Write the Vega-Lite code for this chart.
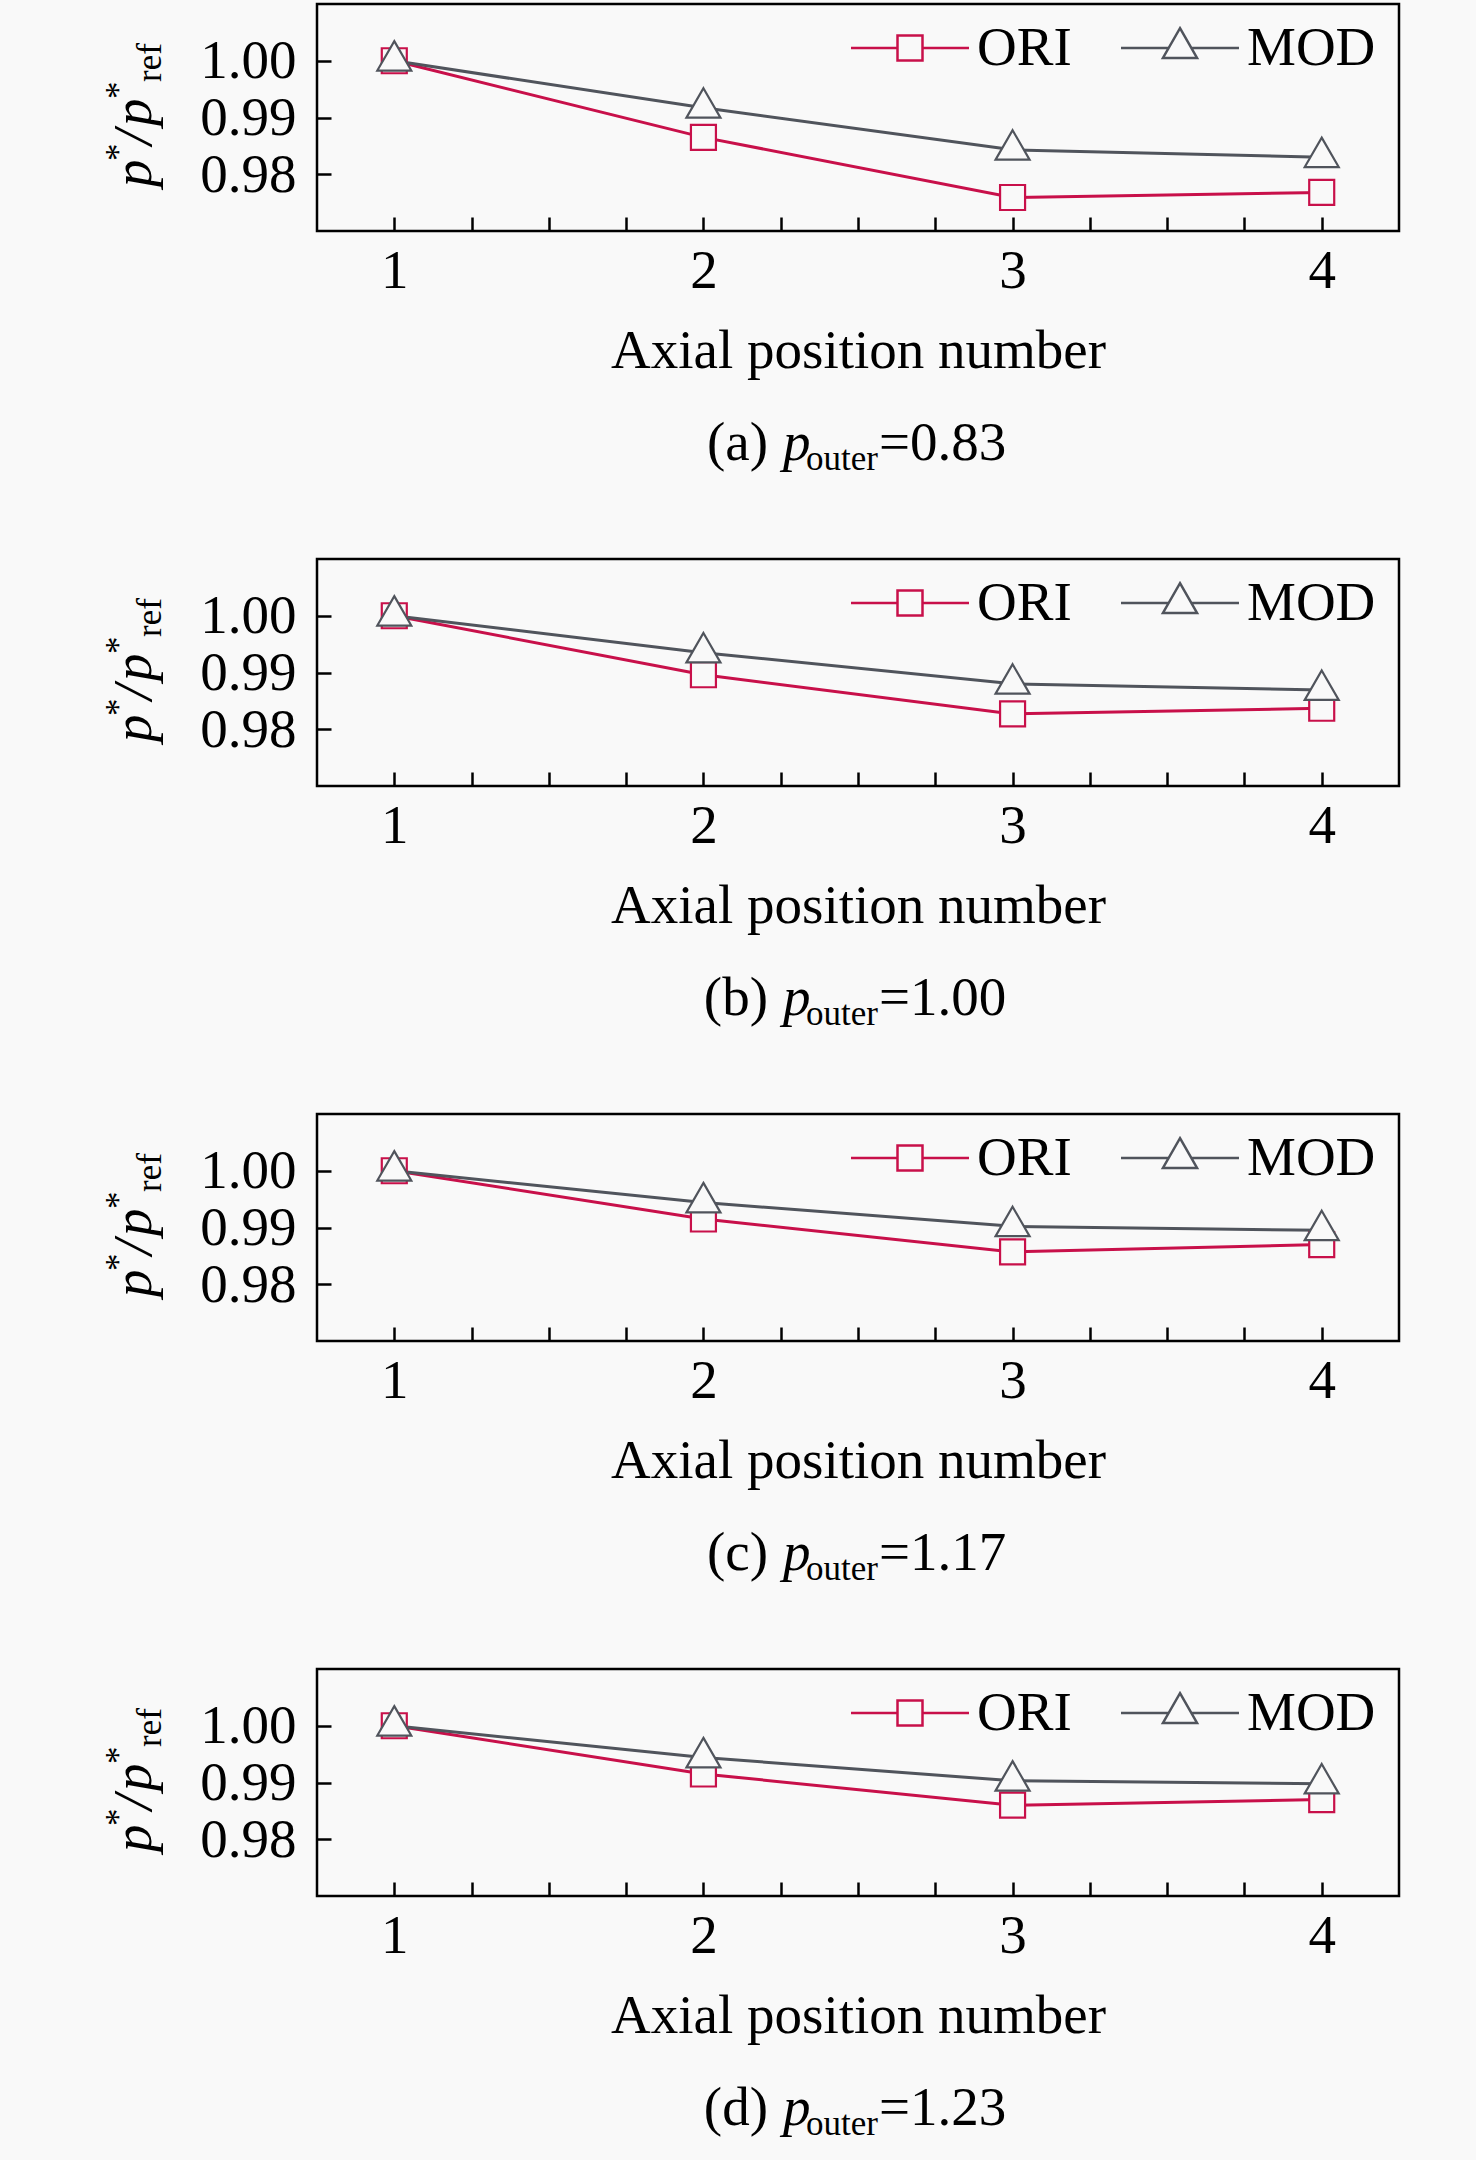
{
  "$schema": "https://vega.github.io/schema/vega-lite/v6.json",
  "background": "#f9f9f9",
  "padding": {"left": 100, "top": 2, "right": 78, "bottom": 36},
  "datasets": {
    "points": [
      {"panel": "a", "series": "ORI", "pos": 1, "ratio": 1.0},
      {"panel": "a", "series": "ORI", "pos": 2, "ratio": 0.9865},
      {"panel": "a", "series": "ORI", "pos": 3, "ratio": 0.9759},
      {"panel": "a", "series": "ORI", "pos": 4, "ratio": 0.9768},
      {"panel": "a", "series": "MOD", "pos": 1, "ratio": 1.0},
      {"panel": "a", "series": "MOD", "pos": 2, "ratio": 0.9917},
      {"panel": "a", "series": "MOD", "pos": 3, "ratio": 0.9843},
      {"panel": "a", "series": "MOD", "pos": 4, "ratio": 0.983},
      {"panel": "b", "series": "ORI", "pos": 1, "ratio": 1.0},
      {"panel": "b", "series": "ORI", "pos": 2, "ratio": 0.9896},
      {"panel": "b", "series": "ORI", "pos": 3, "ratio": 0.9827},
      {"panel": "b", "series": "ORI", "pos": 4, "ratio": 0.9837},
      {"panel": "b", "series": "MOD", "pos": 1, "ratio": 1.0},
      {"panel": "b", "series": "MOD", "pos": 2, "ratio": 0.9935},
      {"panel": "b", "series": "MOD", "pos": 3, "ratio": 0.988},
      {"panel": "b", "series": "MOD", "pos": 4, "ratio": 0.9869},
      {"panel": "c", "series": "ORI", "pos": 1, "ratio": 1.0},
      {"panel": "c", "series": "ORI", "pos": 2, "ratio": 0.9915},
      {"panel": "c", "series": "ORI", "pos": 3, "ratio": 0.9857},
      {"panel": "c", "series": "ORI", "pos": 4, "ratio": 0.987},
      {"panel": "c", "series": "MOD", "pos": 1, "ratio": 1.0},
      {"panel": "c", "series": "MOD", "pos": 2, "ratio": 0.9944},
      {"panel": "c", "series": "MOD", "pos": 3, "ratio": 0.9902},
      {"panel": "c", "series": "MOD", "pos": 4, "ratio": 0.9895},
      {"panel": "d", "series": "ORI", "pos": 1, "ratio": 1.0},
      {"panel": "d", "series": "ORI", "pos": 2, "ratio": 0.9915},
      {"panel": "d", "series": "ORI", "pos": 3, "ratio": 0.986},
      {"panel": "d", "series": "ORI", "pos": 4, "ratio": 0.987},
      {"panel": "d", "series": "MOD", "pos": 1, "ratio": 1.0},
      {"panel": "d", "series": "MOD", "pos": 2, "ratio": 0.9944},
      {"panel": "d", "series": "MOD", "pos": 3, "ratio": 0.9903},
      {"panel": "d", "series": "MOD", "pos": 4, "ratio": 0.9898}
    ],
    "captions": [
      {"panel": "a", "tag": "(a)", "val": "=0.83"},
      {"panel": "b", "tag": "(b)", "val": "=1.00"},
      {"panel": "c", "tag": "(c)", "val": "=1.17"},
      {"panel": "d", "tag": "(d)", "val": "=1.23"}
    ]
  },
  "spacing": 328,
  "bounds": "flush",
  "resolve": {"scale": {"color": "independent"}, "legend": {"color": "independent"}},
  "vconcat": [
    {
      "width": 1082, "height": 227,
      "data": {"name": "points"},
      "transform": [{"filter": "datum.panel === 'a'"}],
      "layer": [
        {
          "mark": {"type": "line", "strokeWidth": 3},
          "encoding": {
            "x": {"field": "pos", "type": "quantitative", "scale": {"domain": [0.75, 4.25], "nice": false, "zero": false},
              "axis": {"title": "Axial position number", "values": [1, 1.25, 1.5, 1.75, 2, 2.25, 2.5, 2.75, 3, 3.25, 3.5, 3.75, 4], "labelExpr": "datum.value % 1 === 0 ? format(datum.value, 'd') : ''", "tickSize": -14, "labelPadding": 27, "titlePadding": 26, "encode": {"ticks": {"update": {"y2": {"signal": "datum.value % 1 === 0 ? -14 : -7"}}}}}},
            "y": {"field": "ratio", "type": "quantitative", "scale": {"domain": [0.97, 1.01], "nice": false, "zero": false},
              "axis": {"title": null, "values": [0.98, 0.99, 1.0], "format": ".2f", "tickSize": -14, "labelPadding": 35}},
            "color": {"field": "series", "type": "nominal", "scale": {"domain": ["ORI", "MOD"], "range": ["#c8104a", "#50545c"]},
              "legend": {"title": null, "orient": "none", "legendX": 564, "legendY": 15, "direction": "horizontal", "symbolSize": 3025, "symbolStrokeWidth": 2.5, "labelOffset": 38, "columnPadding": 44, "padding": 0,
                "encode": {"symbols": {"update": {"shape": {"signal": "datum.value === 'ORI' ? 'M-2.145,0H-0.4545M0.4545,0H2.145M-0.4545,-0.4545H0.4545V0.4545H-0.4545Z' : 'M-2.145,0H-0.41M0.41,0H2.145M0,-0.72L0.62,0.36L-0.62,0.36Z'"}, "fill": {"value": "transparent"}, "strokeWidth": {"value": 2.5}}}}}}
          }
        },
        {
          "transform": [{"filter": "datum.series === 'ORI'"}],
          "mark": {"type": "point", "shape": "square", "size": 625, "filled": true, "fill": "#f9f9f9", "stroke": "#c8104a", "strokeWidth": 2.2, "opacity": 1},
          "encoding": {"x": {"field": "pos", "type": "quantitative"}, "y": {"field": "ratio", "type": "quantitative"}}
        },
        {
          "transform": [{"filter": "datum.series === 'MOD'"}],
          "mark": {"type": "point", "shape": "M0,-1.155L1,0.577L-1,0.577Z", "size": 1156, "filled": true, "fill": "#f9f9f9", "stroke": "#50545c", "strokeWidth": 2.2, "opacity": 1},
          "encoding": {"x": {"field": "pos", "type": "quantitative"}, "y": {"field": "ratio", "type": "quantitative"}}
        },
        {
          "data": {"name": "captions"},
          "transform": [{"filter": "datum.panel === 'a'"}],
          "layer": [
            {"mark": {"type": "text", "text": "p", "fontStyle": "italic", "angle": 270, "align": "left", "x": -166, "y": 183}},
            {"mark": {"type": "text", "text": "*", "fontSize": 35, "angle": 270, "align": "left", "x": -187, "y": 157}},
            {"mark": {"type": "text", "text": "/", "fontStyle": "italic", "angle": 270, "align": "left", "x": -166, "y": 141}},
            {"mark": {"type": "text", "text": "p", "fontStyle": "italic", "angle": 270, "align": "left", "x": -166, "y": 122}},
            {"mark": {"type": "text", "text": "*", "fontSize": 35, "angle": 270, "align": "left", "x": -187, "y": 95}},
            {"mark": {"type": "text", "text": "ref", "fontSize": 35, "angle": 270, "align": "left", "x": -156, "y": 78}},
            {"mark": {"type": "text", "align": "right", "x": 451, "y": 456}, "encoding": {"text": {"field": "tag"}}},
            {"mark": {"type": "text", "text": "p", "fontStyle": "italic", "align": "left", "x": 466, "y": 456}},
            {"mark": {"type": "text", "text": "outer", "fontSize": 35, "align": "left", "x": 489, "y": 466}},
            {"mark": {"type": "text", "align": "left", "x": 562, "y": 456}, "encoding": {"text": {"field": "val"}}}
          ]
        }
      ]
    },
    {
      "width": 1082, "height": 227,
      "data": {"name": "points"},
      "transform": [{"filter": "datum.panel === 'b'"}],
      "layer": [
        {
          "mark": {"type": "line", "strokeWidth": 3},
          "encoding": {
            "x": {"field": "pos", "type": "quantitative", "scale": {"domain": [0.75, 4.25], "nice": false, "zero": false},
              "axis": {"title": "Axial position number", "values": [1, 1.25, 1.5, 1.75, 2, 2.25, 2.5, 2.75, 3, 3.25, 3.5, 3.75, 4], "labelExpr": "datum.value % 1 === 0 ? format(datum.value, 'd') : ''", "tickSize": -14, "labelPadding": 27, "titlePadding": 26, "encode": {"ticks": {"update": {"y2": {"signal": "datum.value % 1 === 0 ? -14 : -7"}}}}}},
            "y": {"field": "ratio", "type": "quantitative", "scale": {"domain": [0.97, 1.01], "nice": false, "zero": false},
              "axis": {"title": null, "values": [0.98, 0.99, 1.0], "format": ".2f", "tickSize": -14, "labelPadding": 35}},
            "color": {"field": "series", "type": "nominal", "scale": {"domain": ["ORI", "MOD"], "range": ["#c8104a", "#50545c"]},
              "legend": {"title": null, "orient": "none", "legendX": 564, "legendY": 15, "direction": "horizontal", "symbolSize": 3025, "symbolStrokeWidth": 2.5, "labelOffset": 38, "columnPadding": 44, "padding": 0,
                "encode": {"symbols": {"update": {"shape": {"signal": "datum.value === 'ORI' ? 'M-2.145,0H-0.4545M0.4545,0H2.145M-0.4545,-0.4545H0.4545V0.4545H-0.4545Z' : 'M-2.145,0H-0.41M0.41,0H2.145M0,-0.72L0.62,0.36L-0.62,0.36Z'"}, "fill": {"value": "transparent"}, "strokeWidth": {"value": 2.5}}}}}}
          }
        },
        {
          "transform": [{"filter": "datum.series === 'ORI'"}],
          "mark": {"type": "point", "shape": "square", "size": 625, "filled": true, "fill": "#f9f9f9", "stroke": "#c8104a", "strokeWidth": 2.2, "opacity": 1},
          "encoding": {"x": {"field": "pos", "type": "quantitative"}, "y": {"field": "ratio", "type": "quantitative"}}
        },
        {
          "transform": [{"filter": "datum.series === 'MOD'"}],
          "mark": {"type": "point", "shape": "M0,-1.155L1,0.577L-1,0.577Z", "size": 1156, "filled": true, "fill": "#f9f9f9", "stroke": "#50545c", "strokeWidth": 2.2, "opacity": 1},
          "encoding": {"x": {"field": "pos", "type": "quantitative"}, "y": {"field": "ratio", "type": "quantitative"}}
        },
        {
          "data": {"name": "captions"},
          "transform": [{"filter": "datum.panel === 'b'"}],
          "layer": [
            {"mark": {"type": "text", "text": "p", "fontStyle": "italic", "angle": 270, "align": "left", "x": -166, "y": 183}},
            {"mark": {"type": "text", "text": "*", "fontSize": 35, "angle": 270, "align": "left", "x": -187, "y": 157}},
            {"mark": {"type": "text", "text": "/", "fontStyle": "italic", "angle": 270, "align": "left", "x": -166, "y": 141}},
            {"mark": {"type": "text", "text": "p", "fontStyle": "italic", "angle": 270, "align": "left", "x": -166, "y": 122}},
            {"mark": {"type": "text", "text": "*", "fontSize": 35, "angle": 270, "align": "left", "x": -187, "y": 95}},
            {"mark": {"type": "text", "text": "ref", "fontSize": 35, "angle": 270, "align": "left", "x": -156, "y": 78}},
            {"mark": {"type": "text", "align": "right", "x": 451, "y": 456}, "encoding": {"text": {"field": "tag"}}},
            {"mark": {"type": "text", "text": "p", "fontStyle": "italic", "align": "left", "x": 466, "y": 456}},
            {"mark": {"type": "text", "text": "outer", "fontSize": 35, "align": "left", "x": 489, "y": 466}},
            {"mark": {"type": "text", "align": "left", "x": 562, "y": 456}, "encoding": {"text": {"field": "val"}}}
          ]
        }
      ]
    },
    {
      "width": 1082, "height": 227,
      "data": {"name": "points"},
      "transform": [{"filter": "datum.panel === 'c'"}],
      "layer": [
        {
          "mark": {"type": "line", "strokeWidth": 3},
          "encoding": {
            "x": {"field": "pos", "type": "quantitative", "scale": {"domain": [0.75, 4.25], "nice": false, "zero": false},
              "axis": {"title": "Axial position number", "values": [1, 1.25, 1.5, 1.75, 2, 2.25, 2.5, 2.75, 3, 3.25, 3.5, 3.75, 4], "labelExpr": "datum.value % 1 === 0 ? format(datum.value, 'd') : ''", "tickSize": -14, "labelPadding": 27, "titlePadding": 26, "encode": {"ticks": {"update": {"y2": {"signal": "datum.value % 1 === 0 ? -14 : -7"}}}}}},
            "y": {"field": "ratio", "type": "quantitative", "scale": {"domain": [0.97, 1.01], "nice": false, "zero": false},
              "axis": {"title": null, "values": [0.98, 0.99, 1.0], "format": ".2f", "tickSize": -14, "labelPadding": 35}},
            "color": {"field": "series", "type": "nominal", "scale": {"domain": ["ORI", "MOD"], "range": ["#c8104a", "#50545c"]},
              "legend": {"title": null, "orient": "none", "legendX": 564, "legendY": 15, "direction": "horizontal", "symbolSize": 3025, "symbolStrokeWidth": 2.5, "labelOffset": 38, "columnPadding": 44, "padding": 0,
                "encode": {"symbols": {"update": {"shape": {"signal": "datum.value === 'ORI' ? 'M-2.145,0H-0.4545M0.4545,0H2.145M-0.4545,-0.4545H0.4545V0.4545H-0.4545Z' : 'M-2.145,0H-0.41M0.41,0H2.145M0,-0.72L0.62,0.36L-0.62,0.36Z'"}, "fill": {"value": "transparent"}, "strokeWidth": {"value": 2.5}}}}}}
          }
        },
        {
          "transform": [{"filter": "datum.series === 'ORI'"}],
          "mark": {"type": "point", "shape": "square", "size": 625, "filled": true, "fill": "#f9f9f9", "stroke": "#c8104a", "strokeWidth": 2.2, "opacity": 1},
          "encoding": {"x": {"field": "pos", "type": "quantitative"}, "y": {"field": "ratio", "type": "quantitative"}}
        },
        {
          "transform": [{"filter": "datum.series === 'MOD'"}],
          "mark": {"type": "point", "shape": "M0,-1.155L1,0.577L-1,0.577Z", "size": 1156, "filled": true, "fill": "#f9f9f9", "stroke": "#50545c", "strokeWidth": 2.2, "opacity": 1},
          "encoding": {"x": {"field": "pos", "type": "quantitative"}, "y": {"field": "ratio", "type": "quantitative"}}
        },
        {
          "data": {"name": "captions"},
          "transform": [{"filter": "datum.panel === 'c'"}],
          "layer": [
            {"mark": {"type": "text", "text": "p", "fontStyle": "italic", "angle": 270, "align": "left", "x": -166, "y": 183}},
            {"mark": {"type": "text", "text": "*", "fontSize": 35, "angle": 270, "align": "left", "x": -187, "y": 157}},
            {"mark": {"type": "text", "text": "/", "fontStyle": "italic", "angle": 270, "align": "left", "x": -166, "y": 141}},
            {"mark": {"type": "text", "text": "p", "fontStyle": "italic", "angle": 270, "align": "left", "x": -166, "y": 122}},
            {"mark": {"type": "text", "text": "*", "fontSize": 35, "angle": 270, "align": "left", "x": -187, "y": 95}},
            {"mark": {"type": "text", "text": "ref", "fontSize": 35, "angle": 270, "align": "left", "x": -156, "y": 78}},
            {"mark": {"type": "text", "align": "right", "x": 451, "y": 456}, "encoding": {"text": {"field": "tag"}}},
            {"mark": {"type": "text", "text": "p", "fontStyle": "italic", "align": "left", "x": 466, "y": 456}},
            {"mark": {"type": "text", "text": "outer", "fontSize": 35, "align": "left", "x": 489, "y": 466}},
            {"mark": {"type": "text", "align": "left", "x": 562, "y": 456}, "encoding": {"text": {"field": "val"}}}
          ]
        }
      ]
    },
    {
      "width": 1082, "height": 227,
      "data": {"name": "points"},
      "transform": [{"filter": "datum.panel === 'd'"}],
      "layer": [
        {
          "mark": {"type": "line", "strokeWidth": 3},
          "encoding": {
            "x": {"field": "pos", "type": "quantitative", "scale": {"domain": [0.75, 4.25], "nice": false, "zero": false},
              "axis": {"title": "Axial position number", "values": [1, 1.25, 1.5, 1.75, 2, 2.25, 2.5, 2.75, 3, 3.25, 3.5, 3.75, 4], "labelExpr": "datum.value % 1 === 0 ? format(datum.value, 'd') : ''", "tickSize": -14, "labelPadding": 27, "titlePadding": 26, "encode": {"ticks": {"update": {"y2": {"signal": "datum.value % 1 === 0 ? -14 : -7"}}}}}},
            "y": {"field": "ratio", "type": "quantitative", "scale": {"domain": [0.97, 1.01], "nice": false, "zero": false},
              "axis": {"title": null, "values": [0.98, 0.99, 1.0], "format": ".2f", "tickSize": -14, "labelPadding": 35}},
            "color": {"field": "series", "type": "nominal", "scale": {"domain": ["ORI", "MOD"], "range": ["#c8104a", "#50545c"]},
              "legend": {"title": null, "orient": "none", "legendX": 564, "legendY": 15, "direction": "horizontal", "symbolSize": 3025, "symbolStrokeWidth": 2.5, "labelOffset": 38, "columnPadding": 44, "padding": 0,
                "encode": {"symbols": {"update": {"shape": {"signal": "datum.value === 'ORI' ? 'M-2.145,0H-0.4545M0.4545,0H2.145M-0.4545,-0.4545H0.4545V0.4545H-0.4545Z' : 'M-2.145,0H-0.41M0.41,0H2.145M0,-0.72L0.62,0.36L-0.62,0.36Z'"}, "fill": {"value": "transparent"}, "strokeWidth": {"value": 2.5}}}}}}
          }
        },
        {
          "transform": [{"filter": "datum.series === 'ORI'"}],
          "mark": {"type": "point", "shape": "square", "size": 625, "filled": true, "fill": "#f9f9f9", "stroke": "#c8104a", "strokeWidth": 2.2, "opacity": 1},
          "encoding": {"x": {"field": "pos", "type": "quantitative"}, "y": {"field": "ratio", "type": "quantitative"}}
        },
        {
          "transform": [{"filter": "datum.series === 'MOD'"}],
          "mark": {"type": "point", "shape": "M0,-1.155L1,0.577L-1,0.577Z", "size": 1156, "filled": true, "fill": "#f9f9f9", "stroke": "#50545c", "strokeWidth": 2.2, "opacity": 1},
          "encoding": {"x": {"field": "pos", "type": "quantitative"}, "y": {"field": "ratio", "type": "quantitative"}}
        },
        {
          "data": {"name": "captions"},
          "transform": [{"filter": "datum.panel === 'd'"}],
          "layer": [
            {"mark": {"type": "text", "text": "p", "fontStyle": "italic", "angle": 270, "align": "left", "x": -166, "y": 183}},
            {"mark": {"type": "text", "text": "*", "fontSize": 35, "angle": 270, "align": "left", "x": -187, "y": 157}},
            {"mark": {"type": "text", "text": "/", "fontStyle": "italic", "angle": 270, "align": "left", "x": -166, "y": 141}},
            {"mark": {"type": "text", "text": "p", "fontStyle": "italic", "angle": 270, "align": "left", "x": -166, "y": 122}},
            {"mark": {"type": "text", "text": "*", "fontSize": 35, "angle": 270, "align": "left", "x": -187, "y": 95}},
            {"mark": {"type": "text", "text": "ref", "fontSize": 35, "angle": 270, "align": "left", "x": -156, "y": 78}},
            {"mark": {"type": "text", "align": "right", "x": 451, "y": 456}, "encoding": {"text": {"field": "tag"}}},
            {"mark": {"type": "text", "text": "p", "fontStyle": "italic", "align": "left", "x": 466, "y": 456}},
            {"mark": {"type": "text", "text": "outer", "fontSize": 35, "align": "left", "x": 489, "y": 466}},
            {"mark": {"type": "text", "align": "left", "x": 562, "y": 456}, "encoding": {"text": {"field": "val"}}}
          ]
        }
      ]
    }
  ],
  "config": {
    "font": "Liberation Serif",
    "view": {"stroke": "#000", "strokeWidth": 2.5},
    "axis": {
      "grid": false, "domain": false,
      "tickColor": "#000", "tickWidth": 2.5,
      "labelFont": "Liberation Serif", "labelFontSize": 55, "labelColor": "#000",
      "labelFlush": false, "labelOverlap": false, "labelBound": false,
      "titleFont": "Liberation Serif", "titleFontSize": 55, "titleFontWeight": "normal", "titleColor": "#000"
    },
    "legend": {"labelFont": "Liberation Serif", "labelFontSize": 55, "labelColor": "#000"},
    "text": {"font": "Liberation Serif", "fontSize": 55, "color": "#000", "baseline": "alphabetic"}
  }
}
